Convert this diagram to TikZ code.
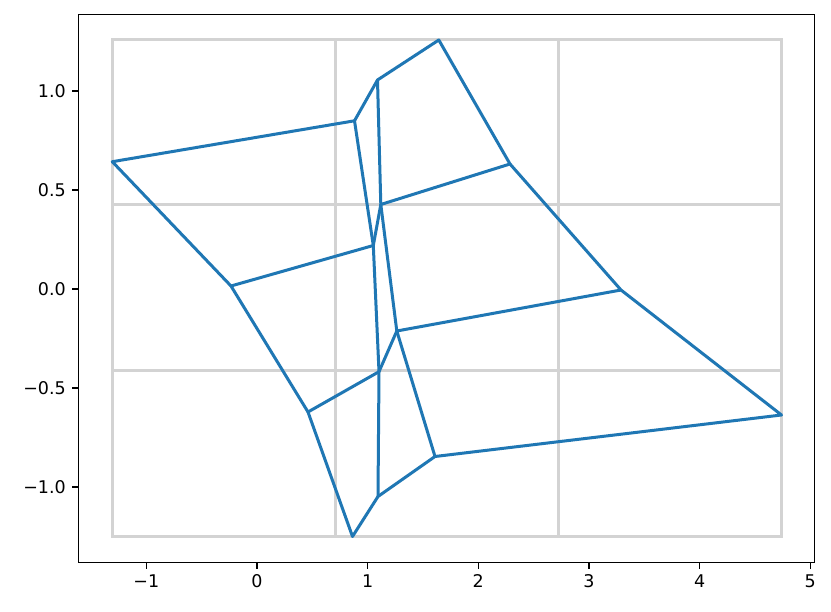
\documentclass[tikz,border=0pt]{standalone}
\usepackage{fontspec}
\setmainfont{DejaVu Sans}
\definecolor{mplblue}{HTML}{1F77B4}
\definecolor{meshgray}{HTML}{D3D3D3}
\begin{document}
\begin{tikzpicture}[x=1pt,y=-1pt,
  meshline/.style={draw=meshgray,line width=3pt},
  blueline/.style={draw=mplblue,line width=3pt,line join=round,line cap=round},
  spine/.style={draw=black,line width=1.5pt},
  tickmark/.style={draw=black,line width=1.5pt},
  ticklab/.style={font=\fontsize{17.5}{20}\selectfont,inner sep=0pt}]
\useasboundingbox[fill=white] (0,0) rectangle (831,612);
% mesh grid
\draw[meshline] (112.3,39.3) rectangle (781.3,536.7);
\draw[meshline] (335,39.3) -- (335,536.7);
\draw[meshline] (558,39.3) -- (558,536.7);
\draw[meshline] (112.3,205) -- (781.3,205);
\draw[meshline] (112.3,371) -- (781.3,371);
% points
\coordinate (p1) at (112.3,161.7);
\coordinate (p2) at (354.5,120.8);
\coordinate (p3) at (377.5,80);
\coordinate (p4) at (438.8,40);
\coordinate (p5) at (510,164);
\coordinate (p6) at (380.8,204.5);
\coordinate (p7) at (373.3,245.5);
\coordinate (p8) at (231,286);
\coordinate (p9) at (621,290);
\coordinate (p10) at (396.8,331);
\coordinate (p11) at (379,371.7);
\coordinate (p12) at (308,412);
\coordinate (p13) at (781.5,415);
\coordinate (p14) at (435,456.5);
\coordinate (p15) at (378,496.5);
\coordinate (p16) at (352.5,536.5);
% outline
\draw[blueline] (p1) -- (p2) -- (p3) -- (p4) -- (p5) -- (p9) -- (p13) -- (p14) -- (p15) -- (p16) -- (p12) -- (p8) -- cycle;
% inner
\draw[blueline] (p2) -- (p7) -- (p11) -- (p15);
\draw[blueline] (p3) -- (p6) -- (p10) -- (p14);
\draw[blueline] (p6) -- (p7);
\draw[blueline] (p10) -- (p11);
\draw[blueline] (p5) -- (p6);
\draw[blueline] (p8) -- (p7);
\draw[blueline] (p9) -- (p10);
\draw[blueline] (p12) -- (p11);
% spines
\draw[spine] (78.7,14.3) rectangle (814.7,562.3);
% x ticks
\foreach \v/\px in {{−1}/146.3,0/256.9,1/367.6,2/478.3,3/588.9,4/699.6,5/810.3}{
  \draw[tickmark] (\px,562.3) -- (\px,568.6);
  \node[ticklab,anchor=north] (xl\px) at (\px,574.5) {\v};
}
% y ticks
\foreach \v/\py [count=\i] in {1.0/91,0.5/190,0.0/289,{−0.5}/388,{−1.0}/487}{
  \draw[tickmark] (78.7,\py) -- (72.4,\py);
  \node[ticklab,anchor=east] (yl\i) at (66,\py) {\v};
}
\end{tikzpicture}
\end{document}
